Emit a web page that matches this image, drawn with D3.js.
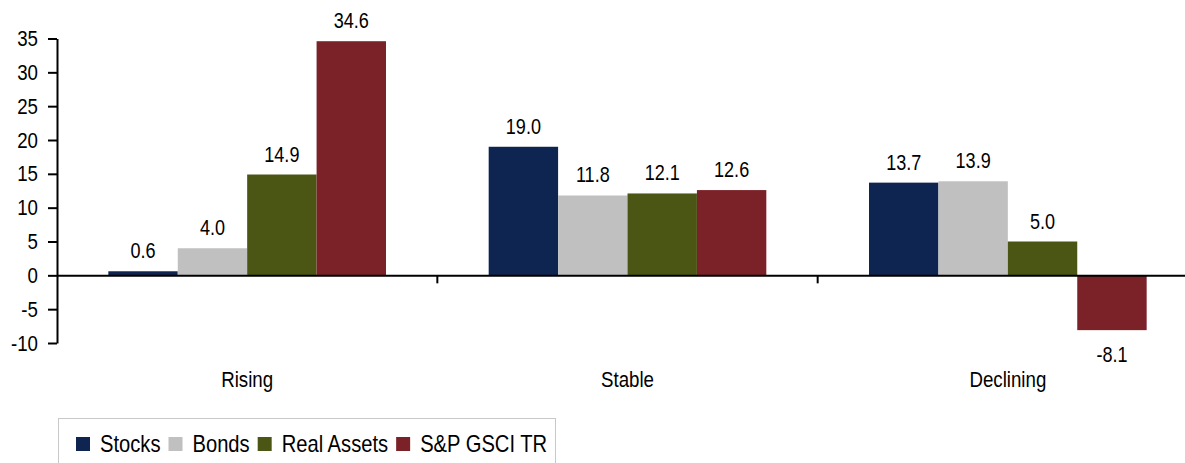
<!DOCTYPE html>
<html>
<head>
<meta charset="utf-8">
<script src="https://cdn.jsdelivr.net/npm/d3@7"></script>
<style>
  body { margin: 0; background: #fff; }
  text { font-family: "Liberation Sans", Arial, sans-serif; fill: #000; }
</style>
</head>
<body>
<div id="chart"></div>
<script>
var categories = ["Rising", "Stable", "Declining"];
var seriesNames = ["Stocks", "Bonds", "Real Assets", "S&P GSCI TR"];
var stocks = [0.6, 19.0, 13.7];
var bonds = [4.0, 11.8, 13.9];
var realAssets = [14.9, 12.1, 5.0];
var gsci = [34.6, 12.6, -8.1];
var yTicks = [-10, -5, 0, 5, 10, 15, 20, 25, 30, 35];
var colors = ["#0e2451", "#c0c0c0", "#4b5614", "#7b2229"];

var width = 1185, height = 463;
var margin = { top: 38.5, left: 57 };
var plotRight = 1198, plotBottom = 343;

// the reference text is condensed, squeeze regular glyphs horizontally
function narrow(sel, k) {
  sel.each(function() {
    var len = this.getComputedTextLength();
    d3.select(this)
      .attr("textLength", len * k)
      .attr("lengthAdjust", "spacingAndGlyphs");
  });
}

var svg = d3.select("#chart").append("svg")
  .attr("width", width)
  .attr("height", height);

var series = [stocks, bonds, realAssets, gsci];

var x0 = d3.scaleBand()
  .domain(categories)
  .range([margin.left, plotRight])
  .paddingInner(0.27)
  .paddingOuter(0.135);

var x1 = d3.scaleBand()
  .domain(d3.range(seriesNames.length))
  .range([0, x0.bandwidth()]);

var y = d3.scaleLinear()
  .domain([-10, 35])
  .range([plotBottom, margin.top]);

// bars
categories.forEach(function(cat, ci) {
  var g = svg.append("g")
    .attr("transform", "translate(" + x0(cat) + ",0)");
  series.forEach(function(vals, si) {
    var v = vals[ci];
    g.append("rect")
      .attr("x", x1(si))
      .attr("y", y(Math.max(0, v)))
      .attr("width", x1.bandwidth())
      .attr("height", Math.abs(y(v) - y(0)))
      .attr("fill", colors[si]);
    g.append("text")
      .attr("class", "val")
      .attr("x", x1(si) + x1.bandwidth() / 2)
      .attr("y", v >= 0 ? y(v) - 13 : y(v) + 32)
      .attr("text-anchor", "middle")
      .style("font-size", "22px")
      .text(v.toFixed(1));
  });
});
svg.selectAll("text.val").call(narrow, 0.82);

// y axis
var yAxis = d3.axisLeft(y)
  .tickValues(yTicks)
  .tickFormat(function(d) { return String(d); })
  .tickSize(9)
  .tickPadding(10)
  .tickSizeOuter(0);

var yg = svg.append("g")
  .attr("transform", "translate(" + margin.left + ",0)")
  .call(yAxis);
yg.select(".domain").attr("stroke", "#000").attr("stroke-width", 2);
yg.selectAll(".tick line").attr("stroke", "#000").attr("stroke-width", 2);
yg.selectAll(".tick text")
  .style("font-size", "22px")
  .style("font-family", "'Liberation Sans', Arial, sans-serif")
  .attr("fill", "#000")
  .call(narrow, 0.85);

// zero axis with category boundary ticks
var xAxis = d3.axisBottom(x0)
  .tickSize(0)
  .tickPadding(96)
  .tickSizeOuter(0);

var xg = svg.append("g")
  .attr("transform", "translate(0," + y(0) + ")")
  .call(xAxis);
xg.select(".domain").attr("stroke", "#000").attr("stroke-width", 2);
xg.selectAll(".tick text")
  .style("font-size", "22px")
  .style("font-family", "'Liberation Sans', Arial, sans-serif")
  .attr("fill", "#000")
  .call(narrow, 0.85);

categories.slice(1).forEach(function(cat) {
  var bx = x0(cat) - x0.step() * x0.paddingInner() / 2;
  xg.append("line")
    .attr("x1", bx).attr("x2", bx)
    .attr("y1", 0).attr("y2", 8)
    .attr("stroke", "#000")
    .attr("stroke-width", 2);
});

// legend
var legend = svg.append("g");
legend.append("rect")
  .attr("x", 58.5).attr("y", 418.5)
  .attr("width", 497).attr("height", 60)
  .attr("fill", "none")
  .attr("stroke", "#c8c8c8");

var lx = 76;
seriesNames.forEach(function(name, i) {
  legend.append("rect")
    .attr("x", lx).attr("y", 437)
    .attr("width", 14).attr("height", 14)
    .attr("fill", colors[i]);
  var t = legend.append("text")
    .attr("x", lx + 24)
    .attr("y", 452)
    .style("font-size", "24px")
    .text(name);
  var len = t.node().getComputedTextLength() * 0.84;
  t.attr("textLength", len).attr("lengthAdjust", "spacingAndGlyphs");
  lx = lx + 24 + len + 8;
});
</script>
</body>
</html>
